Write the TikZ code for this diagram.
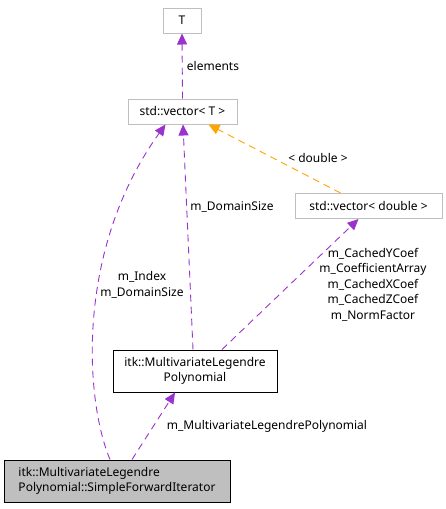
\documentclass[tikz,border=0pt]{standalone}
\usepackage{fontspec}
\setmainfont{Noto Sans}
\usetikzlibrary{arrows.meta}
\definecolor{edgepurple}{HTML}{9A32CD}
\definecolor{edgeorange}{HTML}{FFA500}
\definecolor{boxgray}{HTML}{BFBFBF}

\begin{document}
\begin{tikzpicture}[
  x=1pt, y=-1pt,
  cls/.style={draw=boxgray, fill=white, line width=1pt, minimum height=25pt,
    inner xsep=6pt, align=center, font=\fontsize{12}{15.5}\selectfont},
  main/.style={cls, draw=black},
  rel/.style={draw=edgepurple, line width=0.9pt, dash pattern=on 7pt off 5pt,
    -{Triangle[length=11pt, width=10pt]}},
  tmpl/.style={rel, draw=edgeorange},
  lbl/.style={align=center, font=\fontsize{12}{15.5}\selectfont}
]
\useasboundingbox (0,0) rectangle (445,509);
% classes
\node[cls, minimum width=38pt] (t) at (182,20.5) {T};
\node[cls, minimum width=109pt] (vect) at (182.5,111.5) {std::vector< T >};
\node[cls, minimum width=147pt] (vecd) at (368.5,206) {std::vector< double >};
\node[main, minimum width=164pt, minimum height=42pt] (poly) at (195,371)
  {itk::MultivariateLegendre\\Polynomial};
\node[main, fill=boxgray, minimum width=226pt, minimum height=42pt, align=left] (iter) at (117,481)
  {itk::MultivariateLegendre\\Polynomial::SimpleForwardIterator};
% members
\draw[rel] (vect.north) -- (t.south);
\node[lbl] (elem) at (213,66) {elements};
\draw[tmpl] ([xshift=-28pt]vecd.north) -- ([xshift=26pt]vect.south);
\node[lbl] (targ) at (318,158) {< double >};
\draw[rel] ([xshift=-2pt]poly.north) -- ([xshift=0.5pt]vect.south);
\node[lbl] (dom) at (232,207) {m\_DomainSize};
\draw[rel] ([xshift=-7pt]iter.north) .. controls (85,400) and (75,250) .. ([xshift=-17pt]vect.south);
\node[lbl] (idx) at (142,285) {m\_Index\\m\_DomainSize};
\draw[rel] ([xshift=27pt]poly.north) -- ([xshift=-10pt]vecd.south);
\node[lbl] (coef) at (373,284.5)
  {m\_CachedYCoef\\m\_CoefficientArray\\m\_CachedXCoef\\m\_CachedZCoef\\m\_NormFactor};
\draw[rel] ([xshift=15pt]iter.north) -- ([xshift=-20pt]poly.south);
\node[lbl] (mlp) at (267,426) {m\_MultivariateLegendrePolynomial};
\end{tikzpicture}
\end{document}
